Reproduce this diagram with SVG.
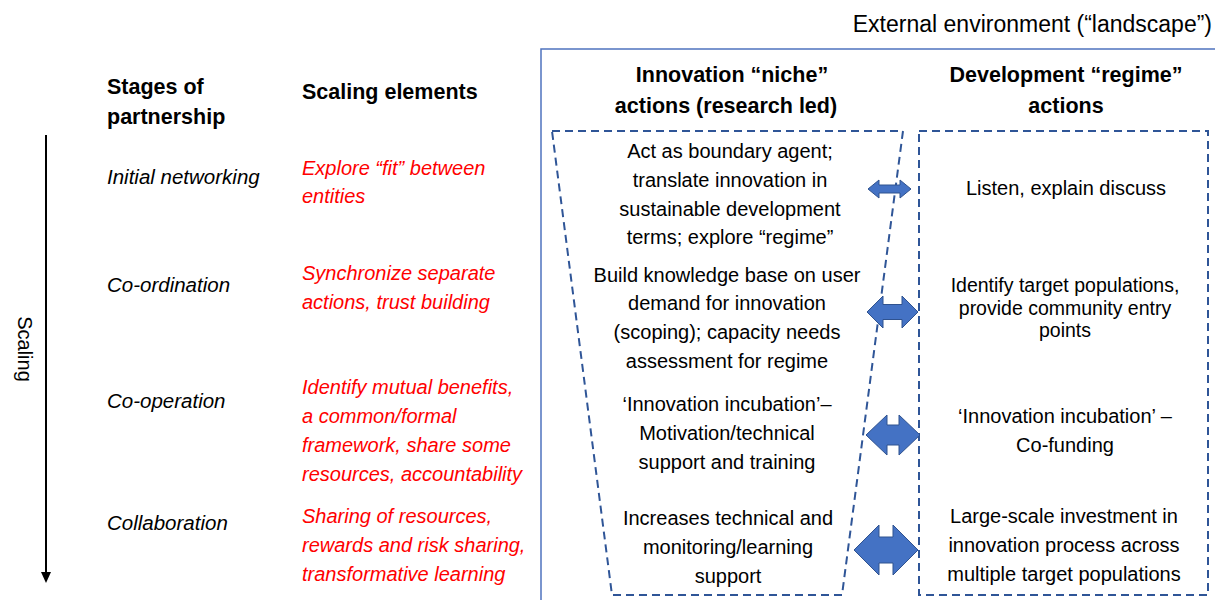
<svg xmlns="http://www.w3.org/2000/svg" width="1215" height="600" viewBox="0 0 1215 600">
<style>
  text { font-family: "Liberation Sans", Arial, sans-serif; font-size: 20px; fill: #000; }
  .hd { font-weight: bold; font-size: 21.5px; }
  .stage { font-style: italic; font-size: 20.5px; }
  .elem { font-style: italic; fill: #FF0000; }
  .mid { text-anchor: middle; }
  .tight { font-size: 19.5px; }
  .frame { fill: none; stroke: #4F73BE; stroke-width: 1.5; }
  .dash { fill: none; stroke: #2F5597; stroke-width: 2; stroke-dasharray: 8 5; }
  .dbl { fill: #4472C4; stroke: #2F528F; stroke-width: 1; }
</style>
<rect width="1215" height="600" fill="#fff"/>

<!-- external environment frame -->
<g id="landscape">
  <path class="frame" d="M541,600 L541,49 L1215,49"/>
  <text x="1212" y="32" text-anchor="end" style="font-size:23px">External environment (“landscape”)</text>
</g>

<!-- scaling axis -->
<g id="scaling">
  <line x1="46" y1="135" x2="46" y2="572" stroke="#000" stroke-width="2"/>
  <path d="M41,572 L51,572 L46,583 Z" fill="#000"/>
  <text transform="translate(18,349) rotate(90)" class="mid">Scaling</text>
</g>

<!-- column headings -->
<g id="head-stages">
  <text class="hd" x="107" y="94">Stages of</text>
  <text class="hd" x="107" y="124">partnership</text>
</g>
<g id="head-elements">
  <text class="hd" x="302" y="99">Scaling elements</text>
</g>
<g id="head-niche">
  <text class="hd mid" x="732" y="82">Innovation “niche”</text>
  <text class="hd mid" x="726" y="113">actions (research led)</text>
</g>
<g id="head-regime">
  <text class="hd mid" x="1066" y="82">Development “regime”</text>
  <text class="hd mid" x="1066" y="113">actions</text>
</g>

<!-- stages of partnership -->
<g id="stage-1"><text class="stage" x="107" y="184">Initial networking</text></g>
<g id="stage-2"><text class="stage" x="107" y="292">Co-ordination</text></g>
<g id="stage-3"><text class="stage" x="107" y="408">Co-operation</text></g>
<g id="stage-4"><text class="stage" x="107" y="530">Collaboration</text></g>

<!-- scaling elements -->
<g id="element-1">
  <text class="elem" x="302" y="175">Explore “fit” between</text>
  <text class="elem" x="302" y="203">entities</text>
</g>
<g id="element-2">
  <text class="elem" x="302" y="280">Synchronize separate</text>
  <text class="elem" x="302" y="309">actions, trust building</text>
</g>
<g id="element-3">
  <text class="elem" x="302" y="394">Identify mutual benefits,</text>
  <text class="elem" x="302" y="423">a common/formal</text>
  <text class="elem" x="302" y="452">framework, share some</text>
  <text class="elem" x="302" y="481">resources, accountability</text>
</g>
<g id="element-4">
  <text class="elem" x="302" y="523">Sharing of resources,</text>
  <text class="elem" x="302" y="552">rewards and risk sharing,</text>
  <text class="elem" x="302" y="581">transformative learning</text>
</g>

<!-- niche funnel -->
<g id="niche-funnel">
  <polygon class="dash" points="552,131 903,131 842,595 612,595"/>
</g>
<g id="niche-1">
  <text class="mid" x="730" y="158">Act as boundary agent;</text>
  <text class="mid" x="730" y="187">translate innovation in</text>
  <text class="mid" x="730" y="216">sustainable development</text>
  <text class="mid" x="730" y="244">terms; explore “regime”</text>
</g>
<g id="niche-2">
  <text class="mid" x="727" y="282">Build knowledge base on user</text>
  <text class="mid" x="727" y="310">demand for innovation</text>
  <text class="mid" x="727" y="339">(scoping); capacity needs</text>
  <text class="mid" x="727" y="368">assessment for regime</text>
</g>
<g id="niche-3">
  <text class="mid" x="727" y="411">‘Innovation incubation’–</text>
  <text class="mid" x="727" y="440">Motivation/technical</text>
  <text class="mid" x="727" y="469">support and training</text>
</g>
<g id="niche-4">
  <text class="mid" x="728" y="525">Increases technical and</text>
  <text class="mid" x="728" y="554">monitoring/learning</text>
  <text class="mid" x="728" y="583">support</text>
</g>

<!-- regime box -->
<g id="regime-box">
  <rect class="dash" x="919" y="131" width="289" height="464"/>
</g>
<g id="regime-1">
  <text class="mid" x="1066" y="195">Listen, explain discuss</text>
</g>
<g id="regime-2">
  <text class="mid tight" x="1065" y="292">Identify target populations,</text>
  <text class="mid tight" x="1065" y="314.5">provide community entry</text>
  <text class="mid tight" x="1065" y="337">points</text>
</g>
<g id="regime-3">
  <text class="mid" x="1065" y="423">‘Innovation incubation’ –</text>
  <text class="mid" x="1065" y="452">Co-funding</text>
</g>
<g id="regime-4">
  <text class="mid" x="1064" y="523">Large-scale investment in</text>
  <text class="mid" x="1064" y="552">innovation process across</text>
  <text class="mid" x="1064" y="581">multiple target populations</text>
</g>

<!-- two-way links between niche and regime -->
<g id="links">
  <polygon class="dbl" points="868,189 879,180 879,185 900,185 900,180 911,189 900,198 900,193 879,193 879,198"/>
  <polygon class="dbl" points="867,312 883,296 883,304.5 902,304.5 902,296 918,312 902,328 902,319.5 883,319.5 883,328"/>
  <polygon class="dbl" points="866,435 887,415 887,425 899,425 899,415 920,435 899,455 899,445 887,445 887,455"/>
  <polygon class="dbl" points="854,550 879,525 879,537 893,537 893,525 918,550 893,575 893,563 879,563 879,575"/>
</g>
</svg>
